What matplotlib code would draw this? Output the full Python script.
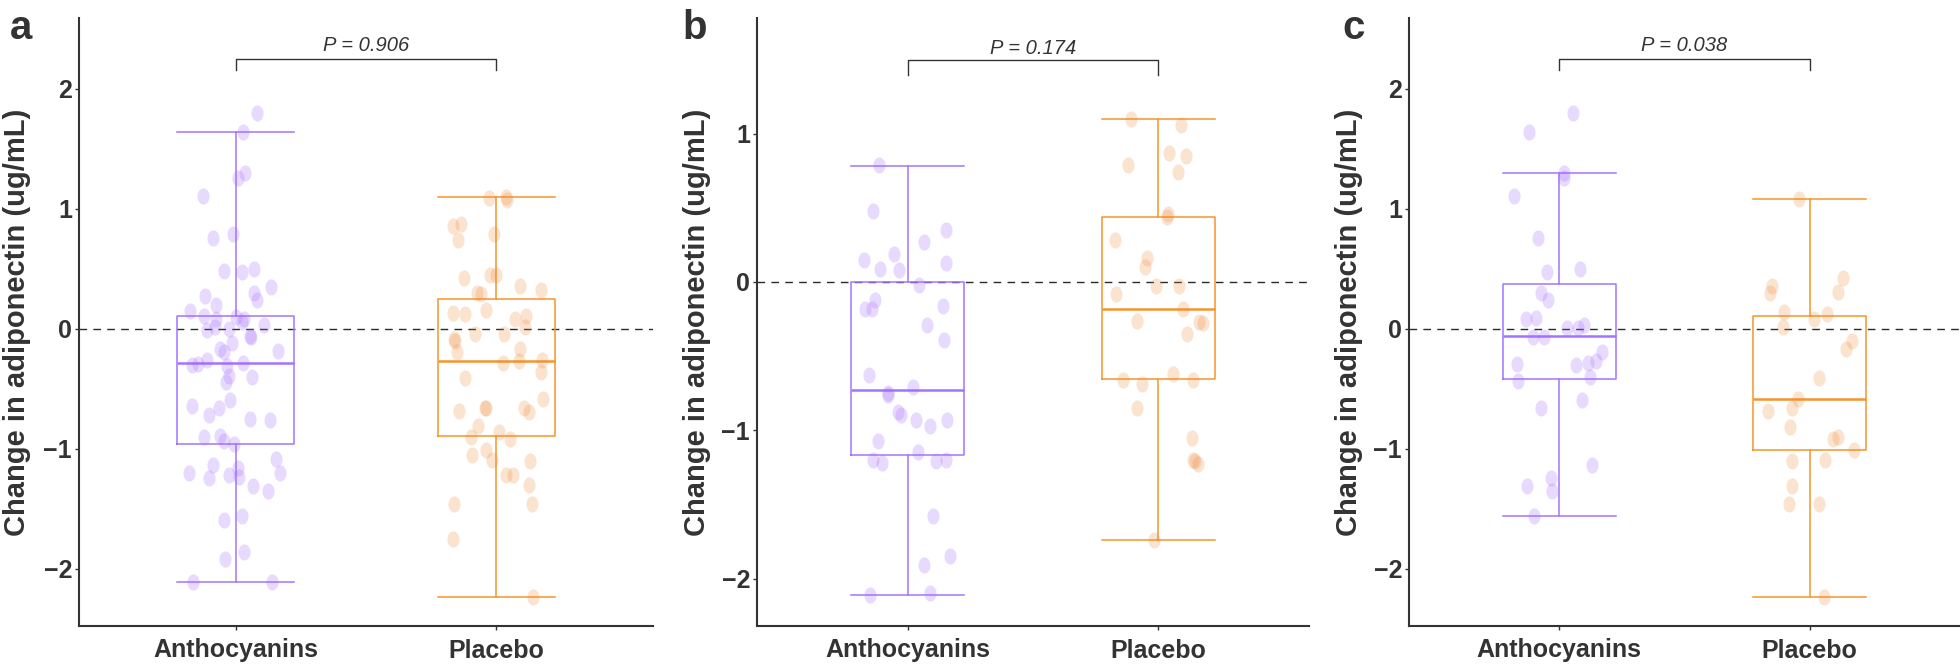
import numpy as np
import matplotlib
matplotlib.use("Agg")
import matplotlib.pyplot as plt
from matplotlib.path import Path

plt.rcParams["font.family"] = ["Liberation Sans", "DejaVu Sans"]

groups = ["Anthocyanins", "Placebo"]
panel_labels = ["a", "b", "c"]
p_values = ["0.906", "0.174", "0.038"]
ylabel = "Change in adiponectin (ug/mL)"

# points: value and horizontal jitter (in category units)
a_antho = [1.80, 1.64, 1.30, 1.26, 1.11, 0.76, 0.79, 0.48, 0.47, 0.50, 0.27, 0.30, 0.24,
           0.35, 0.15, 0.11, 0.20, 0.08, 0.10, 0.08, 0.06, 0.03, -0.01, 0.02, 0.00, -0.06,
           -0.07, -0.12, -0.17, -0.19, -0.18, -0.30, -0.29, -0.26, -0.31, -0.28, -0.39,
           -0.44, -0.40, -0.59, -0.64, -0.66, -0.72, -0.75, -0.76, -0.90, -0.89, -0.93,
           -0.96, -1.08, -1.20, -1.13, -1.24, -1.22, -1.16, -1.23, -1.20, -1.31, -1.35,
           -1.59, -1.56, -1.92, -1.86, -2.11, -2.11]
a_antho_jit = [0.084, 0.027, 0.035, 0.008, -0.124, -0.085, -0.008, -0.045, 0.023, 0.071,
               -0.116, 0.069, 0.082, 0.134, -0.174, -0.119, -0.074, -0.073, 0.003, 0.032,
               0.026, 0.108, -0.108, -0.079, -0.024, 0.055, 0.061, -0.013, -0.061, -0.045,
               0.161, -0.166, -0.142, -0.108, -0.034, 0.027, -0.027, -0.037, 0.063, -0.021,
               -0.165, -0.065, -0.103, 0.056, 0.132, -0.119, -0.061, -0.045, -0.005, 0.155,
               -0.177, -0.085, -0.100, -0.024, 0.011, 0.015, 0.169, 0.068, 0.126, -0.045,
               0.023, -0.039, 0.031, -0.163, 0.139]
a_plac = [1.09, 1.10, 1.07, 0.86, 0.87, 0.74, 0.79, 0.42, 0.45, 0.45, 0.36, 0.32, 0.30,
          0.29, 0.13, 0.12, 0.16, 0.08, 0.11, 0.02, -0.04, -0.08, -0.10, -0.04, -0.19,
          -0.17, -0.28, -0.27, -0.26, -0.36, -0.41, -0.58, -0.68, -0.66, -0.66, -0.66,
          -0.69, -0.81, -0.90, -0.86, -0.92, -1.05, -1.01, -1.09, -1.10, -1.22, -1.22,
          -1.30, -1.46, -1.46, -1.75, -2.23]
a_plac_jit = [-0.029, 0.035, 0.040, -0.165, -0.137, -0.147, -0.011, -0.123, -0.024, 0.000,
              0.090, 0.171, -0.076, -0.061, -0.166, -0.119, -0.039, 0.071, 0.113, 0.108,
              -0.084, -0.161, -0.158, 0.029, -0.150, 0.090, 0.024, 0.085, 0.173, 0.169,
              -0.119, 0.177, -0.144, -0.045, -0.039, 0.105, 0.123, -0.071, -0.097, 0.011,
              0.050, -0.095, -0.040, -0.018, 0.129, 0.035, 0.065, 0.124, -0.163, 0.137,
              -0.166, 0.139]

b_antho = [0.79, 0.48, 0.35, 0.27, 0.15, 0.19, 0.13, 0.09, 0.08, -0.02, -0.12, -0.18,
           -0.18, -0.16, -0.29, -0.39, -0.63, -0.75, -0.76, -0.71, -0.88, -0.90, -0.93,
           -0.97, -0.93, -1.07, -1.20, -1.22, -1.15, -1.21, -1.20, -1.58, -1.91, -1.85,
           -2.11, -2.10]
b_antho_jit = [-0.114, -0.139, 0.154, 0.064, -0.174, -0.054, 0.153, -0.109, -0.034, 0.045,
               -0.129, -0.168, -0.141, 0.141, 0.079, 0.146, -0.153, -0.079, -0.077, 0.022,
               -0.039, -0.025, 0.034, 0.091, 0.158, -0.117, -0.139, -0.102, 0.040, 0.112,
               0.154, 0.102, 0.067, 0.171, -0.149, 0.089]
b_plac = [1.10, 1.06, 0.87, 0.85, 0.79, 0.74, 0.44, 0.46, 0.28, 0.16, 0.10, -0.08, -0.03,
          -0.03, -0.18, -0.26, -0.27, -0.28, -0.35, -0.66, -0.69, -0.62, -0.66, -0.85,
          -1.05, -1.20, -1.21, -1.23, -1.74]
b_plac_jit = [-0.111, 0.091, 0.044, 0.111, -0.121, 0.079, 0.035, 0.039, -0.174, -0.045,
              -0.055, -0.168, -0.010, 0.081, 0.097, -0.087, 0.161, 0.178, 0.114, -0.143,
              -0.067, 0.057, 0.136, -0.086, 0.134, 0.136, 0.144, 0.158, -0.017]

c_antho = [1.80, 1.64, 1.30, 1.26, 1.11, 0.76, 0.47, 0.50, 0.30, 0.24, 0.08, 0.09, 0.01,
           0.01, 0.03, -0.07, -0.07, -0.29, -0.30, -0.28, -0.27, -0.19, -0.43, -0.40,
           -0.66, -0.59, -1.13, -1.31, -1.24, -1.35, -1.56]
c_antho_jit = [0.054, -0.122, 0.020, 0.020, -0.179, -0.083, -0.049, 0.081, -0.073, -0.047,
               -0.133, -0.094, 0.029, 0.073, 0.098, -0.104, -0.060, -0.167, 0.067, 0.115,
               0.148, 0.169, -0.163, 0.124, -0.072, 0.089, 0.132, -0.130, -0.034, -0.028,
               -0.099]
c_plac = [1.08, 0.36, 0.30, 0.42, 0.31, 0.14, 0.02, 0.08, 0.12, -0.10, -0.17, -0.41,
          -0.58, -0.66, -0.68, -0.82, -0.92, -0.90, -1.01, -1.10, -1.09, -1.31, -1.46,
          -1.46, -2.23]
c_plac_jit = [-0.041, -0.151, -0.159, 0.133, 0.114, -0.101, -0.107, 0.016, 0.070, 0.167,
              0.146, 0.036, -0.046, -0.070, -0.166, -0.080, 0.091, 0.111, 0.177, -0.070,
              0.062, -0.070, -0.081, 0.036, 0.057]

# box statistics: whisker low, Q1, median, Q3, whisker high
a_box = [[-2.11, -0.958, -0.28, 0.106, 1.64], [-2.23, -0.89, -0.265, 0.247, 1.10]]
b_box = [[-2.11, -1.165, -0.73, 0.0, 0.78], [-1.74, -0.655, -0.185, 0.44, 1.10]]
c_box = [[-1.56, -0.42, -0.06, 0.378, 1.30], [-2.23, -1.01, -0.587, 0.11, 1.08]]

panels = [
    (a_antho, a_antho_jit, a_plac, a_plac_jit, a_box),
    (b_antho, b_antho_jit, b_plac, b_plac_jit, b_box),
    (c_antho, c_antho_jit, c_plac, c_plac_jit, c_box),
]

# layout
INK = "#333333"
line_cols = ["#A374FF", "#F5952A"]
point_cols = ["#A066FF", "#EE8A3A"]
ylims = [(-2.475, 2.59), (-2.32, 1.78), (-2.475, 2.59)]
yticks = [[-2, -1, 0, 1, 2], [-2, -1, 0, 1], [-2, -1, 0, 1, 2]]
bracket = [(2.25, 2.16, 2.317), (1.495, 1.397, 1.535), (2.25, 2.16, 2.317)]
ax_left = [79, 757, 1409]
ax_width = [574, 552, 551]
label_x = [10, 682, 1342]
W, H = 1960, 666

# slightly tall ellipse marker, like the stretched points in the original
t = np.linspace(0, 2 * np.pi, 60)
ellipse = Path(np.column_stack([0.75 * np.cos(t), np.sin(t)]), closed=True)

fig = plt.figure(figsize=(W / 100, H / 100), dpi=100)

for i, (antho, antho_j, plac, plac_j, box) in enumerate(panels):
    ax = fig.add_axes([ax_left[i] / W, 40 / H, ax_width[i] / W, 608 / H])
    ax.axhline(0, color="#2a2a2a", lw=1.0, dashes=(5.5, 4.5), zorder=1)

    stats = []
    for lo, q1, med, q3, hi in box:
        stats.append(dict(whislo=lo, q1=q1, med=med, q3=q3, whishi=hi, fliers=[]))
    for k, st in enumerate(stats):
        ax.bxp([st], positions=[k + 1], widths=0.45, showfliers=False,
               boxprops=dict(color=line_cols[k], lw=1.1),
               whiskerprops=dict(color=line_cols[k], lw=1.1),
               capprops=dict(color=line_cols[k], lw=1.1),
               medianprops=dict(color=line_cols[k], lw=1.8),
               capwidths=0.45, zorder=2)

    for k, (vals, jit) in enumerate([(antho, antho_j), (plac, plac_j)]):
        ax.scatter(np.array(jit) + k + 1, vals, s=135, marker=ellipse,
                   color=point_cols[k], alpha=0.24, linewidths=0, zorder=3)

    by, leg, ty = bracket[i]
    ax.plot([1, 1, 2, 2], [leg, by, by, leg], color=INK, lw=1.0, zorder=4)
    ax.text(1.5, ty, f"P = {p_values[i]}", ha="center", va="baseline",
            fontsize=14.5, style="italic", color=INK)

    ax.set_xlim(0.4, 2.6)
    ax.set_ylim(*ylims[i])
    ax.set_xticks([1, 2])
    ax.set_xticklabels(groups)
    ax.set_yticks(yticks[i])
    ax.tick_params(colors=INK, labelsize=18, length=3, width=1.0)
    ax.tick_params(axis="x", pad=6)
    ax.tick_params(axis="y", pad=2)
    for lab in ax.get_xticklabels() + ax.get_yticklabels():
        lab.set_fontweight("bold")
    for side in ["top", "right"]:
        ax.spines[side].set_visible(False)
    for side in ["left", "bottom"]:
        ax.spines[side].set_color(INK)
        ax.spines[side].set_linewidth(1.5)
    ax.set_ylabel(ylabel, fontsize=21, fontweight="bold", color=INK)
    ax.yaxis.set_label_coords(-0.083, 0.5)

    fig.text(label_x[i] / W, 1 - 39 / H, panel_labels[i], fontsize=29,
             fontweight="bold", color=INK, ha="left", va="baseline")

fig.savefig("out.png", dpi=100)
